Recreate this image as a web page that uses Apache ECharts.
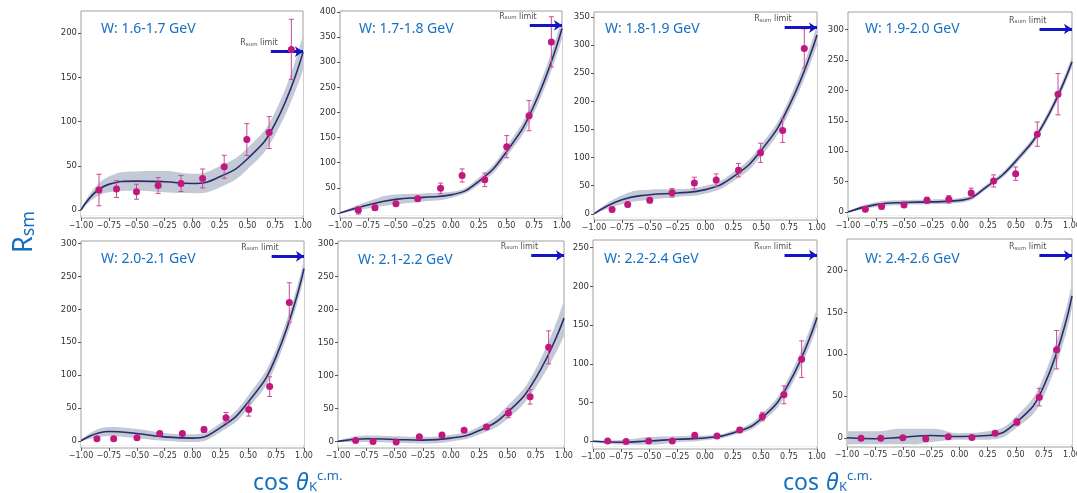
<!DOCTYPE html>
<html><head><meta charset="utf-8">
<script src="https://cdn.jsdelivr.net/npm/echarts@6/dist/echarts.min.js"></script>
<style>html,body{margin:0;padding:0;background:#fff}#c{width:1077px;height:493px}</style>
</head><body><div id="c"></div>
<script>
// ---------------- data ----------------
const TITLES = ['W: 1.6-1.7 GeV','W: 1.7-1.8 GeV','W: 1.8-1.9 GeV','W: 1.9-2.0 GeV',
                'W: 2.0-2.1 GeV','W: 2.1-2.2 GeV','W: 2.2-2.4 GeV','W: 2.4-2.6 GeV'];
const X_TICKS = [-1,-0.75,-0.5,-0.25,0,0.25,0.5,0.75,1];
const Y_TICKS_1 = [0,50,100,150,200];
const Y_TICKS_2 = [0,50,100,150,200,250,300,350,400];
const Y_TICKS_3 = [0,50,100,150,200,250,300,350];
const Y_TICKS_4 = [0,50,100,150,200,250,300];
const Y_TICKS_5 = [0,50,100,150,200,250,300];
const Y_TICKS_6 = [0,50,100,150,200,250,300];
const Y_TICKS_7 = [0,50,100,150,200,250];
const Y_TICKS_8 = [0,50,100,150,200];
const Y_MIN = [-9,-10,-11,-10,-11,-10,-10,-11];
const Y_MAX = [225,402,359,329,304,304,260,238];
const LIMIT = [179,373.5,331,301,280.7,282,240.5,218];   // R_sum limit value
const LIMIT_FROM = 0.71;

const P1_X = [-0.838,-0.68,-0.5,-0.305,-0.099,0.096,0.29,0.494,0.695,0.895];
const P1_Y = [22.6,23.7,20.7,27.8,30,35.7,48.9,79.7,87.6,181.6];
const P1_E = [17.8,9.5,8.5,9,9,10.7,13,18,18,34];
const P2_X = [-0.835,-0.685,-0.496,-0.30,-0.094,0.10,0.304,0.502,0.703,0.904];
const P2_Y = [5.3,10.6,18.5,28.4,49,74.7,66,132,193.7,340.5];
const P2_E = [7.5,5,3,5,10.5,13,13.5,22,30,50];
const P3_X = [-0.838,-0.698,-0.5,-0.30,-0.10,0.096,0.296,0.494,0.692,0.886];
const P3_Y = [7.7,16.6,24.3,37.4,54.6,60,77.7,108.5,148,294];
const P3_E = [4,4,5,7.5,10.5,11,12,17,21,35];
const P4_X = [-0.845,-0.70,-0.5,-0.295,-0.10,0.10,0.30,0.497,0.69,0.875];
const P4_Y = [4.4,8.8,11.5,19.2,20.8,31.2,51,63,128,193.8];
const P4_E = [4,4,3,5,6,8,10,11,20,34];
const P5_X = [-0.857,-0.707,-0.498,-0.294,-0.091,0.103,0.30,0.504,0.692,0.868];
const P5_Y = [3,3,4.5,11,11,17,35,47.5,82.4,210.4];
const P5_E = [2,2,2,3,3,4,8,10,15,30];
const P6_X = [-0.844,-0.69,-0.485,-0.28,-0.08,0.116,0.314,0.508,0.70,0.864];
const P6_Y = [1.5,0,-1,7,9.6,17,22,43,67.6,142.7];
const P6_E = [2,2,2,2,2,2,3,7,11,25];
const P7_X = [-0.869,-0.705,-0.503,-0.292,-0.092,0.107,0.31,0.512,0.705,0.863];
const P7_Y = [0.4,-0.4,0.4,0.4,7.8,6.9,14.7,31.9,60,106];
const P7_E = [1.5,1.5,1.5,1.5,2,2,3,5.5,11.5,23.7];
const P8_X = [-0.875,-0.70,-0.504,-0.30,-0.10,0.11,0.317,0.51,0.709,0.863];
const P8_Y = [-0.4,-0.4,0,-1.2,1.2,0.4,5.6,18.8,48.7,105.4];
const P8_E = [1.5,1.5,1.5,1.5,1.5,1.5,2,4,10.5,23];

const FIT_X = [-1,-0.75,-0.5,-0.25,0,0.25,0.5,0.75,1];
const FIT_1 = [0,29,32.7,32,30,37.6,58,98,178.5];
const BAND_1 = [1,9,11,12,11,12,12,13,20];
const FIT_2 = [0,16,27,31,36,63,122,215,367];
const BAND_2 = [1,7,10,8,6,7,10,15,20];
const FIT_3 = [0,25,34,37,43,66,113,192,318];
const BAND_3 = [1,8,9,7,7,8,10,12,18];
const FIT_4 = [0,12,15.5,16.5,19,43,84,146,247];
const BAND_4 = [1,4,4,4,4,4,5,6,9];
const FIT_5 = [0,14,11,6,4,20,59,128,262];
const BAND_5 = [1,7,7,6,6,7,10,12,14];
const FIT_6 = [0,4,3,2,5,16.6,44,96,187];
const BAND_6 = [1,5,5,5,5,6,10,14,27];
const FIT_7 = [0,-1.3,0.4,2.6,4.3,10.8,29,75,160];
const BAND_7 = [1,3,5,4,3,3,5,8,12];
const FIT_8 = [0,-1.2,0.8,2.8,1.6,2.8,18,62,170];
const BAND_8 = [8,9,10,8,4,5,7,12,15];

// ---------------- layout & style ----------------
const GRID_BOX = [[81,11,222,207],[340,11,222,207],[594,12,223,208],[848,12,224,206],
                  [81,241,223,207],[338,241,226,207],[593,240,224,209],[847,239,225,208]];
const TITLE_POS = [[101,22],[359,22],[605,22],[865,22],[101,252],[358,253],[604,252],[865,252]];
const BLUE_TXT = '#1670c2';
const BAND_COLOR = '#c3cad6';
const FIT_COLOR = '#2b2c6c';
const PT_COLOR = '#c2177f';
const ERR_COLOR = '#cc4a98';
const ARROW_COLOR = '#1414c4';

const PX = [P1_X,P2_X,P3_X,P4_X,P5_X,P6_X,P7_X,P8_X];
const PY = [P1_Y,P2_Y,P3_Y,P4_Y,P5_Y,P6_Y,P7_Y,P8_Y];
const PE = [P1_E,P2_E,P3_E,P4_E,P5_E,P6_E,P7_E,P8_E];
const FITS = [FIT_1,FIT_2,FIT_3,FIT_4,FIT_5,FIT_6,FIT_7,FIT_8];
const BANDS = [BAND_1,BAND_2,BAND_3,BAND_4,BAND_5,BAND_6,BAND_7,BAND_8];
const YT = [Y_TICKS_1,Y_TICKS_2,Y_TICKS_3,Y_TICKS_4,Y_TICKS_5,Y_TICKS_6,Y_TICKS_7,Y_TICKS_8];

function fmtX(v){ return (v < 0 ? '\u2212' : '') + Math.abs(v).toFixed(2); }

function renderErr(params, api){
  const x = api.value(0), lo = api.value(1), hi = api.value(2);
  const a = api.coord([x, hi]), b = api.coord([x, lo]);
  const w = 2.5;
  const st = {stroke: ERR_COLOR, lineWidth: 1};
  return {type:'group', children:[
    {type:'line', shape:{x1:a[0],y1:a[1],x2:b[0],y2:b[1]}, style:st},
    {type:'line', shape:{x1:a[0]-w,y1:a[1],x2:a[0]+w,y2:a[1]}, style:st},
    {type:'line', shape:{x1:b[0]-w,y1:b[1],x2:b[0]+w,y2:b[1]}, style:st}
  ]};
}

const grids = [], xAxes = [], yAxes = [], series = [], titles = [];
const tickFont = {color:'#333', fontFamily:'DejaVu Sans'};
for (let i = 0; i < 8; i++) {
  const g = GRID_BOX[i];
  grids.push({left:g[0], top:g[1], width:g[2], height:g[3], show:true,
    borderColor:'#a0a0a0', borderWidth:1, containLabel:false, outerBoundsMode:'none'});
  xAxes.push({type:'value', gridIndex:i, min:-1, max:1,
    axisLine:{show:false, onZero:false}, splitLine:{show:false},
    axisTick:{show:true, length:3, customValues:X_TICKS, lineStyle:{color:'#555'}},
    axisLabel:Object.assign({customValues:X_TICKS, formatter:fmtX, margin:4, fontSize:8}, tickFont)});
  yAxes.push({type:'value', gridIndex:i, min:Y_MIN[i], max:Y_MAX[i],
    axisLine:{show:false, onZero:false}, splitLine:{show:false},
    axisTick:{show:true, length:3, customValues:YT[i], lineStyle:{color:'#555'}},
    axisLabel:Object.assign({customValues:YT[i], margin:4, fontSize:8.5}, tickFont)});
  titles.push({text:TITLES[i], left:TITLE_POS[i][0], top:TITLE_POS[i][1], padding:0,
    textStyle:{color:BLUE_TXT, fontSize:14, fontWeight:'normal', fontFamily:'Noto Sans'}});

  const fit = FITS[i], band = BANDS[i];
  const base = Y_MIN[i] + 0.012 * (Y_MAX[i] - Y_MIN[i]);
  const hi = FIT_X.map((x,k)=>[x, fit[k]+band[k]]);
  const lo = FIT_X.map((x,k)=>[x, fit[k]-band[k]]);
  const common = {xAxisIndex:i, yAxisIndex:i, silent:true};
  // band: fill under the upper edge, then cover under the lower edge with the background colour
  series.push(Object.assign({type:'line', data:hi, smooth:true, symbol:'none',
    lineStyle:{width:0, opacity:0}, areaStyle:{color:BAND_COLOR, opacity:1, origin:base}, z:1}, common));
  series.push(Object.assign({type:'line', data:lo, smooth:true, symbol:'none',
    lineStyle:{width:0, opacity:0}, areaStyle:{color:'#ffffff', opacity:1, origin:base}, z:1}, common));
  series.push(Object.assign({type:'line', data:FIT_X.map((x,k)=>[x, fit[k]]),
    smooth:true, symbol:'none', lineStyle:{color:FIT_COLOR, width:1.6}, z:3,
    markLine:{silent:true, symbol:['none','arrow'], symbolSize:8, animation:false,
      label:{show:false}, lineStyle:{color:ARROW_COLOR, width:3, type:'solid'},
      data:[[{coord:[LIMIT_FROM, LIMIT[i]]},{coord:[1, LIMIT[i]]}]]}}, common));
  series.push(Object.assign({type:'custom', renderItem:renderErr, encode:{x:0, y:[1,2]},
    data:PX[i].map((x,k)=>[x, PY[i][k]-PE[i][k], PY[i][k]+PE[i][k]]), z:4}, common));
  series.push(Object.assign({type:'scatter', data:PX[i].map((x,k)=>[x, PY[i][k]]),
    symbolSize:7, itemStyle:{color:PT_COLOR, opacity:1}, z:5}, common));
  series.push(Object.assign({type:'scatter', data:[[LIMIT_FROM, LIMIT[i]]], symbolSize:1,
    itemStyle:{color:'rgba(0,0,0,0)'}, z:6,
    label:{show:true, position:[-30,-12], formatter:'{r|R}{s|sum}{r| limit}',
      rich:{r:{fontSize:8, color:'#222', fontFamily:'DejaVu Sans'},
            s:{fontSize:5.5, color:'#222', verticalAlign:'bottom', fontFamily:'DejaVu Sans'}}}}, common));
}

const graphics = [
  {type:'text', x:24, y:232, rotation:Math.PI/2,
   style:{text:'{r|R}{s|sm}', align:'center', verticalAlign:'middle',
     rich:{r:{fontSize:27, fill:BLUE_TXT, fontFamily:'Noto Sans'},
           s:{fontSize:18, fill:BLUE_TXT, fontFamily:'Noto Sans', verticalAlign:'bottom'}}}}
];
[253, 783].forEach(x0 => {
  graphics.push({type:'text', x:x0, y:472, style:{text:'cos ', fontSize:23, fill:BLUE_TXT, fontFamily:'Noto Sans'}});
  graphics.push({type:'text', x:x0+43, y:472, style:{text:'\u03B8', fontSize:23, fontStyle:'italic', fill:BLUE_TXT, fontFamily:'Noto Sans'}});
  graphics.push({type:'text', x:x0+56, y:481, style:{text:'K', fontSize:13, fill:BLUE_TXT, fontFamily:'Noto Sans'}});
  graphics.push({type:'text', x:x0+64, y:470, style:{text:'c.m.', fontSize:13, fill:BLUE_TXT, fontFamily:'Noto Sans'}});
});

const chart = echarts.init(document.getElementById('c'), null, {renderer:'canvas'});
chart.setOption({animation:false, backgroundColor:'#fff', title:titles, grid:grids,
  xAxis:xAxes, yAxis:yAxes, series:series, graphic:graphics});
</script></body></html>
